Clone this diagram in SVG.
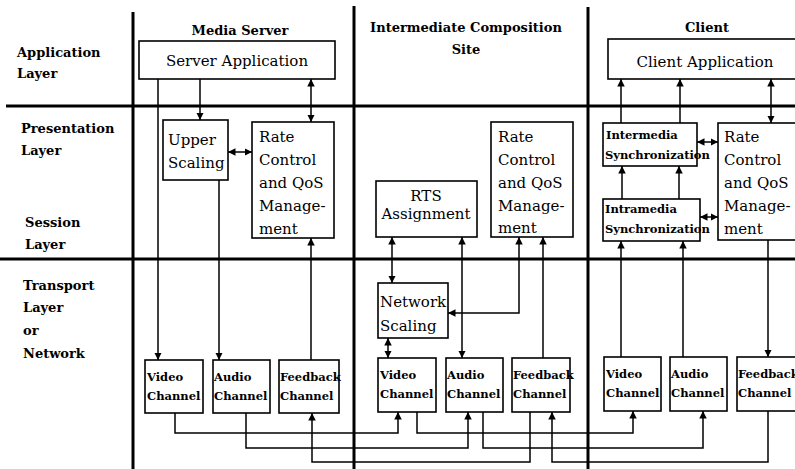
<svg xmlns="http://www.w3.org/2000/svg" width="795" height="469" viewBox="0 0 795 469">
  <style>
    .bg { fill: #ffffff; }
    .div { stroke: #000; stroke-width: 3; fill: none; }
    .box { fill: #fff; stroke: #000; stroke-width: 1.6; }
    .ln { stroke: #000; stroke-width: 1.5; fill: none; }
    .lbl { font-family: "DejaVu Serif", "Liberation Serif", serif; font-weight: bold; font-size: 13px; fill: #000; }
    .nt { font-family: "DejaVu Serif", "Liberation Serif", serif; font-size: 15px; fill: #000; }
    .ch { font-family: "DejaVu Serif", "Liberation Serif", serif; font-weight: bold; font-size: 11.5px; fill: #000; }
    .sy { font-family: "DejaVu Serif", "Liberation Serif", serif; font-weight: bold; font-size: 11.5px; fill: #000; }
  </style>
  <defs>
    <marker id="ah" viewBox="0 0 8 8" refX="8" refY="4" markerWidth="7.5" markerHeight="7.5" markerUnits="userSpaceOnUse" orient="auto-start-reverse">
      <path d="M0,0 L8,4 L0,8 z" fill="#000"/>
    </marker>
  </defs>

  <rect class="bg" x="0" y="0" width="795" height="469"/>

  <!-- layer and site dividers -->
  <g id="dividers">
    <line class="div" x1="133" y1="12" x2="133" y2="469"/>
    <line class="div" x1="354" y1="6" x2="354" y2="469"/>
    <line class="div" x1="588" y1="7" x2="588" y2="469"/>
    <line class="div" x1="6" y1="106" x2="795" y2="106"/>
    <line class="div" x1="0" y1="259" x2="795" y2="259"/>
  </g>

  <!-- layer names -->
  <g id="layer-labels">
    <text class="lbl" x="17" y="57">Application</text>
    <text class="lbl" x="17" y="78">Layer</text>
    <text class="lbl" x="21" y="133">Presentation</text>
    <text class="lbl" x="21" y="155">Layer</text>
    <text class="lbl" x="25" y="227">Session</text>
    <text class="lbl" x="25" y="249">Layer</text>
    <text class="lbl" x="23" y="290">Transport</text>
    <text class="lbl" x="23" y="312">Layer</text>
    <text class="lbl" x="23" y="335">or</text>
    <text class="lbl" x="23" y="358">Network</text>
  </g>

  <!-- site headings -->
  <g id="site-labels">
    <text class="lbl" x="240" y="35" text-anchor="middle">Media Server</text>
    <text class="lbl" x="466" y="32" text-anchor="middle">Intermediate Composition</text>
    <text class="lbl" x="466" y="54" text-anchor="middle">Site</text>
    <text class="lbl" x="707" y="32" text-anchor="middle">Client</text>
  </g>

  <!-- connectors -->
  <g id="connectors">
    <!-- media server -->
    <line class="ln" x1="200" y1="79" x2="200" y2="120" marker-end="url(#ah)"/>
    <line class="ln" x1="311" y1="79" x2="311" y2="122" marker-start="url(#ah)" marker-end="url(#ah)"/>
    <line class="ln" x1="228" y1="152" x2="252" y2="152" marker-start="url(#ah)" marker-end="url(#ah)"/>
    <line class="ln" x1="158" y1="79" x2="158" y2="360" marker-end="url(#ah)"/>
    <line class="ln" x1="219" y1="180" x2="219" y2="360" marker-end="url(#ah)"/>
    <line class="ln" x1="311" y1="360" x2="311" y2="238" marker-end="url(#ah)"/>

    <!-- intermediate composition site -->
    <line class="ln" x1="392" y1="237" x2="392" y2="283" marker-start="url(#ah)" marker-end="url(#ah)"/>
    <line class="ln" x1="462" y1="237" x2="462" y2="358" marker-start="url(#ah)" marker-end="url(#ah)"/>
    <polyline class="ln" points="519,237 519,313 448,313" marker-start="url(#ah)" marker-end="url(#ah)"/>
    <line class="ln" x1="543" y1="358" x2="543" y2="237" marker-end="url(#ah)"/>
    <line class="ln" x1="388" y1="338" x2="388" y2="358" marker-start="url(#ah)" marker-end="url(#ah)"/>

    <!-- client -->
    <line class="ln" x1="621" y1="123" x2="621" y2="79" marker-end="url(#ah)"/>
    <line class="ln" x1="680" y1="123" x2="680" y2="79" marker-end="url(#ah)"/>
    <line class="ln" x1="771" y1="79" x2="771" y2="123" marker-start="url(#ah)" marker-end="url(#ah)"/>
    <line class="ln" x1="622" y1="199" x2="622" y2="166" marker-end="url(#ah)"/>
    <line class="ln" x1="679" y1="199" x2="679" y2="166" marker-end="url(#ah)"/>
    <line class="ln" x1="697" y1="142" x2="718" y2="142" marker-start="url(#ah)" marker-end="url(#ah)"/>
    <line class="ln" x1="700" y1="217" x2="718" y2="217" marker-start="url(#ah)" marker-end="url(#ah)"/>
    <line class="ln" x1="621" y1="357" x2="621" y2="241" marker-end="url(#ah)"/>
    <line class="ln" x1="683" y1="357" x2="683" y2="241" marker-end="url(#ah)"/>
    <line class="ln" x1="768" y1="240" x2="768" y2="357" marker-end="url(#ah)"/>

    <!-- channels between sites -->
    <polyline class="ln" points="175,413 175,433 398,433 398,412" marker-end="url(#ah)"/>
    <polyline class="ln" points="417,412 417,433 633,433 633,411" marker-end="url(#ah)"/>
    <polyline class="ln" points="246,413 246,448 468,448 468,412" marker-end="url(#ah)"/>
    <polyline class="ln" points="483,412 483,448 703,448 703,411" marker-end="url(#ah)"/>
    <polyline class="ln" points="530,412 530,462 312,462 312,413" marker-end="url(#ah)"/>
    <polyline class="ln" points="768,411 768,462 552,462 552,412" marker-end="url(#ah)"/>
  </g>

  <!-- media server nodes -->
  <g id="server-application">
    <rect class="box" x="139" y="41" width="196" height="38"/>
    <text class="nt" x="237" y="66" text-anchor="middle">Server Application</text>
  </g>
  <g id="upper-scaling">
    <rect class="box" x="163" y="120" width="65" height="60"/>
    <text class="nt" x="168" y="145">Upper</text>
    <text class="nt" x="168" y="168">Scaling</text>
  </g>
  <g id="server-rate-control">
    <rect class="box" x="252" y="122" width="82" height="116"/>
    <text class="nt" x="259" y="142">Rate</text>
    <text class="nt" x="259" y="165">Control</text>
    <text class="nt" x="259" y="188">and QoS</text>
    <text class="nt" x="259" y="211">Manage-</text>
    <text class="nt" x="259" y="234">ment</text>
  </g>
  <g id="server-video-channel">
    <rect class="box" x="145" y="360" width="58" height="53"/>
    <text class="ch" x="147" y="381">Video</text>
    <text class="ch" x="147" y="400">Channel</text>
  </g>
  <g id="server-audio-channel">
    <rect class="box" x="213" y="360" width="57" height="53"/>
    <text class="ch" x="214" y="381">Audio</text>
    <text class="ch" x="214" y="400">Channel</text>
  </g>
  <g id="server-feedback-channel">
    <rect class="box" x="279" y="360" width="60" height="53"/>
    <text class="ch" x="280" y="381">Feedback</text>
    <text class="ch" x="280" y="400">Channel</text>
  </g>

  <!-- intermediate composition site nodes -->
  <g id="rts-assignment">
    <rect class="box" x="376" y="181" width="101" height="56"/>
    <text class="nt" x="426" y="201" text-anchor="middle">RTS</text>
    <text class="nt" x="426" y="219" text-anchor="middle">Assignment</text>
  </g>
  <g id="site-rate-control">
    <rect class="box" x="491" y="122" width="82" height="115"/>
    <text class="nt" x="498" y="142">Rate</text>
    <text class="nt" x="498" y="165">Control</text>
    <text class="nt" x="498" y="188">and QoS</text>
    <text class="nt" x="498" y="211">Manage-</text>
    <text class="nt" x="498" y="233">ment</text>
  </g>
  <g id="network-scaling">
    <rect class="box" x="378" y="283" width="70" height="55"/>
    <text class="nt" x="380" y="307">Network</text>
    <text class="nt" x="380" y="331">Scaling</text>
  </g>
  <g id="site-video-channel">
    <rect class="box" x="378" y="358" width="58" height="54"/>
    <text class="ch" x="380" y="379">Video</text>
    <text class="ch" x="380" y="398">Channel</text>
  </g>
  <g id="site-audio-channel">
    <rect class="box" x="446" y="358" width="57" height="54"/>
    <text class="ch" x="447" y="379">Audio</text>
    <text class="ch" x="447" y="398">Channel</text>
  </g>
  <g id="site-feedback-channel">
    <rect class="box" x="512" y="358" width="58" height="54"/>
    <text class="ch" x="513" y="379">Feedback</text>
    <text class="ch" x="513" y="398">Channel</text>
  </g>

  <!-- client nodes -->
  <g id="client-application">
    <rect class="box" x="608" y="39" width="195" height="40"/>
    <text class="nt" x="705" y="67" text-anchor="middle">Client Application</text>
  </g>
  <g id="intermedia-sync">
    <rect class="box" x="603" y="123" width="94" height="43"/>
    <text class="sy" x="606" y="139">Intermedia</text>
    <text class="sy" x="605" y="159">Synchronization</text>
  </g>
  <g id="intramedia-sync">
    <rect class="box" x="603" y="199" width="97" height="42"/>
    <text class="sy" x="605" y="213">Intramedia</text>
    <text class="sy" x="605" y="233">Synchronization</text>
  </g>
  <g id="client-rate-control">
    <rect class="box" x="718" y="123" width="90" height="117"/>
    <text class="nt" x="724" y="142">Rate</text>
    <text class="nt" x="724" y="165">Control</text>
    <text class="nt" x="724" y="188">and QoS</text>
    <text class="nt" x="724" y="211">Manage-</text>
    <text class="nt" x="724" y="234">ment</text>
  </g>
  <g id="client-video-channel">
    <rect class="box" x="604" y="357" width="57" height="54"/>
    <text class="ch" x="606" y="378">Video</text>
    <text class="ch" x="606" y="397">Channel</text>
  </g>
  <g id="client-audio-channel">
    <rect class="box" x="670" y="357" width="57" height="54"/>
    <text class="ch" x="671" y="378">Audio</text>
    <text class="ch" x="671" y="397">Channel</text>
  </g>
  <g id="client-feedback-channel">
    <rect class="box" x="737" y="357" width="70" height="54"/>
    <text class="ch" x="738" y="378">Feedback</text>
    <text class="ch" x="738" y="397">Channel</text>
  </g>
</svg>
